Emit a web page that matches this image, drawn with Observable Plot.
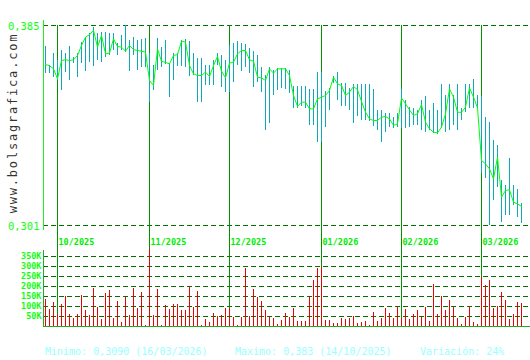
<!DOCTYPE html>
<html><head><meta charset="utf-8">
<script src="https://cdn.jsdelivr.net/npm/d3@7"></script>
<script src="https://cdn.jsdelivr.net/npm/@observablehq/plot@0.6"></script>
<style>
body{margin:0;background:#fff;}
#wrap{position:relative;width:530px;height:360px;overflow:hidden;background:#fff;font-family:"DejaVu Sans Mono",monospace;}
#price{position:absolute;left:0;top:0;}
#vol{position:absolute;left:0;top:250px;}
.foot{position:absolute;top:346px;font-size:10px;line-height:12px;color:#99ffff;white-space:pre;font-family:"DejaVu Sans Mono",monospace;}
#wm{position:absolute;left:13px;top:123px;transform:translate(-50%,-50%) rotate(-90deg);font-size:12px;letter-spacing:1.8px;color:#333;white-space:nowrap;font-family:"DejaVu Sans Mono",monospace;}
</style></head><body>
<div id="wrap">
<div id="wm">www.bolsagrafica.com</div>
<div id="price"></div>
<div id="vol"></div>
<div class="foot" style="left:45px">Minimo: 0,3090 (16/03/2026)</div>
<div class="foot" style="left:235px">Maximo: 0,383 (14/10/2025)</div>
<div class="foot" style="left:420px">Variación: 24%</div>
</div>
<script>
const high = [0.3762,0.3682,0.3734,0.3703,0.3745,0.3731,0.3762,0.3715,0.3731,0.3779,
0.3801,0.3815,0.3843,0.3815,0.3822,0.3822,0.3815,0.3815,0.3774,0.3808,
0.3850,0.3787,0.3801,0.3787,0.3790,0.3794,0.3732,0.3682,0.3794,0.3759,
0.3787,0.3689,0.3731,0.3731,0.3787,0.3790,0.3784,0.3734,0.3710,0.3710,
0.3682,0.3682,0.3703,0.3731,0.3724,0.3703,0.3766,0.3773,0.3784,0.3776,
0.3770,0.3752,0.3742,0.3724,0.3675,0.3640,0.3675,0.3661,0.3668,0.3668,
0.3668,0.3661,0.3594,0.3594,0.3594,0.3594,0.3580,0.3580,0.3654,0.3654,
0.3574,0.3584,0.3636,0.3654,0.3605,0.3605,0.3584,0.3602,0.3602,0.3602,
0.3602,0.3602,0.3580,0.3493,0.3493,0.3480,0.3482,0.3465,0.3479,0.3580,
0.3535,0.3506,0.3500,0.3493,0.3535,0.3552,0.3493,0.3521,0.3493,0.3602,
0.3556,0.3602,0.3556,0.3602,0.3500,0.3602,0.3602,0.3623,0.3556,0.3552,
0.3465,0.3444,0.3367,0.3346,0.3199,0.3178,0.3290,0.3178,0.3160,0.3102];
const low = [0.3650,0.3650,0.3633,0.3619,0.3577,0.3654,0.3619,0.3690,0.3633,0.3690,
0.3658,0.3696,0.3678,0.3703,0.3696,0.3717,0.3724,0.3745,0.3724,0.3745,
0.3737,0.3658,0.3724,0.3661,0.3675,0.3675,0.3528,0.3577,0.3661,0.3675,
0.3686,0.3549,0.3619,0.3678,0.3678,0.3675,0.3636,0.3640,0.3528,0.3528,
0.3598,0.3598,0.3598,0.3682,0.3591,0.3570,0.3570,0.3612,0.3682,0.3658,
0.3675,0.3650,0.3591,0.3612,0.3570,0.3409,0.3440,0.3556,0.3577,0.3584,
0.3580,0.3563,0.3500,0.3500,0.3510,0.3500,0.3430,0.3430,0.3360,0.3360,
0.3423,0.3493,0.3605,0.3535,0.3510,0.3510,0.3493,0.3440,0.3468,0.3451,
0.3451,0.3448,0.3426,0.3409,0.3360,0.3402,0.3423,0.3416,0.3423,0.3416,
0.3416,0.3423,0.3430,0.3430,0.3409,0.3402,0.3409,0.3396,0.3392,0.3416,
0.3402,0.3409,0.3430,0.3409,0.3451,0.3486,0.3500,0.3501,0.3501,0.3230,
0.3206,0.3010,0.3115,0.3171,0.3024,0.3052,0.3052,0.3094,0.3042,0.3020];
const close = [0.3686,0.3681,0.3668,0.3626,0.3703,0.3706,0.3703,0.3706,0.3724,0.3766,
0.3801,0.3811,0.3830,0.3759,0.3808,0.3731,0.3734,0.3794,0.3762,0.3759,
0.3742,0.3766,0.3749,0.3745,0.3742,0.3738,0.3619,0.3598,0.3752,0.3699,
0.3695,0.3689,0.3724,0.3728,0.3784,0.3780,0.3682,0.3647,0.3640,0.3640,
0.3654,0.3636,0.3682,0.3720,0.3658,0.3630,0.3692,0.3696,0.3731,0.3745,
0.3745,0.3706,0.3700,0.3633,0.3630,0.3619,0.3668,0.3650,0.3668,0.3668,
0.3668,0.3640,0.3556,0.3510,0.3528,0.3528,0.3500,0.3500,0.3542,0.3549,
0.3556,0.3577,0.3633,0.3605,0.3598,0.3556,0.3570,0.3594,0.3580,0.3531,
0.3486,0.3458,0.3451,0.3451,0.3465,0.3468,0.3458,0.3430,0.3437,0.3546,
0.3521,0.3496,0.3472,0.3479,0.3518,0.3444,0.3416,0.3402,0.3399,0.3423,
0.3479,0.3584,0.3549,0.3486,0.3485,0.3507,0.3588,0.3549,0.3504,0.3283,
0.3269,0.3248,0.3206,0.3297,0.3129,0.3157,0.3160,0.3108,0.3101,0.3090];
const volumeK = [137,87,122,60,112,148,61,41,61,153,
81,56,188,97,36,163,178,41,127,20,
143,56,188,92,168,5,387,56,183,5,
107,87,111,112,81,81,202,97,173,5,
36,20,66,51,56,92,90,46,5,46,
290,51,183,143,127,81,46,41,10,31,
66,46,92,25,25,25,143,229,290,294,
31,31,15,15,41,36,41,51,15,20,
25,5,71,25,41,92,66,41,97,40,
87,36,61,81,46,97,25,209,61,148,
81,132,97,41,10,46,102,20,10,244,
204,229,92,102,168,132,36,61,122,117];
const monthIndex = [3, 26, 46, 69, 89, 109];
const monthLabels = ["10/2025","11/2025","12/2025","01/2026","02/2026","03/2026"];
const priceTicks = [0.385, 0.301];
const volumeTicks = [50, 100, 150, 200, 250, 300, 350];

const N = close.length;
const idx = d3.range(N);
const xDomain = [-0.5, N + 1.25];
const FONT = "DejaVu Sans Mono, monospace";
const crisp = {shapeRendering: "crispEdges"};

const price = Plot.plot({
  width: 530, height: 250,
  marginLeft: 43, marginRight: 0, marginTop: 25, marginBottom: 25,
  x: {domain: xDomain, axis: null},
  y: {domain: [priceTicks[1], priceTicks[0]], axis: null},
  style: {background: "transparent", overflow: "visible", fontFamily: FONT},
  marks: [
    Plot.ruleY(priceTicks, {...crisp, stroke: "#007000", strokeDasharray: "5,3"}),
    Plot.ruleX(monthIndex, {...crisp, stroke: "#009000", insetBottom: -25}),
    Plot.ruleX([xDomain[0]], {...crisp, stroke: "#22ee22", insetTop: -5, insetBottom: -5}),
    Plot.ruleX(idx, {...crisp, x: d => d, y1: i => low[i], y2: i => high[i], stroke: "#10a8b8"}),
    Plot.line(idx, {x: d => d, y: i => close[i], stroke: "#00ff00", strokeWidth: 1}),
    Plot.text(priceTicks, {y: d => d, frameAnchor: "left", textAnchor: "end", dx: -4, dy: 1.5,
      text: d => d.toFixed(3).replace(".", ","), fill: "#11ff11", fontSize: 10.5}),
    Plot.text(monthIndex, {x: d => d, frameAnchor: "bottom", textAnchor: "start", dx: 1, dy: 19,
      text: (d, i) => monthLabels[i], fill: "#00ee00", fontSize: 8.5, fontWeight: "bold"})
  ]
});
document.getElementById("price").appendChild(price);

const vol = Plot.plot({
  width: 530, height: 80,
  marginLeft: 43, marginRight: 0, marginTop: 6, marginBottom: 4,
  x: {domain: xDomain, axis: null},
  y: {domain: [0, 350], axis: null},
  style: {background: "transparent", overflow: "visible", fontFamily: FONT},
  marks: [
    Plot.ruleY(volumeTicks, {...crisp, stroke: "#007000", strokeDasharray: "5,3"}),
    Plot.ruleX(monthIndex, {...crisp, stroke: "#009000", insetTop: -6}),
    Plot.ruleX(idx, {...crisp, x: d => d, y1: 0, y2: i => volumeK[i], stroke: "#ee0000"}),
    Plot.ruleY([0], {...crisp, stroke: "#22aa22"}),
    Plot.ruleX([xDomain[0]], {...crisp, stroke: "#22aa22", insetTop: -6}),
    Plot.text(volumeTicks, {y: d => d, frameAnchor: "left", textAnchor: "end", dx: -2,
      text: d => d + "K", fill: "#11ff11", fontSize: 8.5, fontWeight: "bold"})
  ]
});
document.getElementById("vol").appendChild(vol);
</script>
</body></html>
